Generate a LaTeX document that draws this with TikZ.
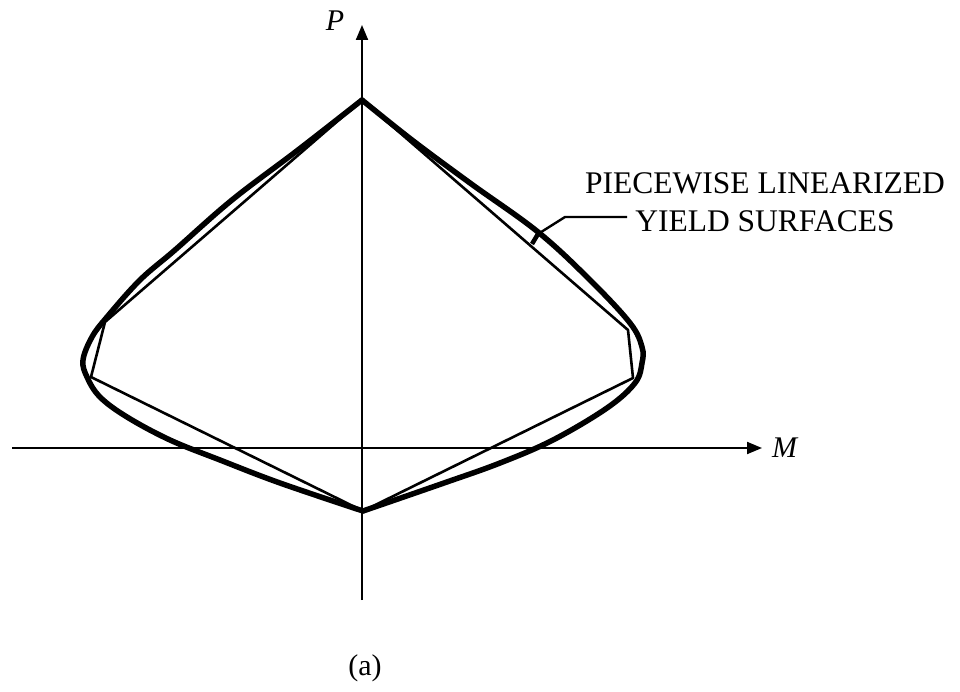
\documentclass[tikz,border=0pt]{standalone}
\usepackage{fontspec}
\setmainfont{Liberation Serif}
\usetikzlibrary{arrows.meta}

\begin{document}
\begin{tikzpicture}[x=1pt, y=-1pt, >={Triangle[length=15pt,width=12pt]},
  yield/.style={line width=5.5pt, line join=round, line cap=round},
  linear/.style={line width=2.6pt, line join=round},
  axis/.style={->, line width=2pt},
  lbl/.style={font=\fontsize{31.5}{38}\selectfont, inner sep=0pt}]
  \useasboundingbox (0,0) rectangle (960,692);
  % axes
  \coordinate (pbot) at (362,600);
  \coordinate (ptop) at (362,25);
  \coordinate (mleft) at (12,448);
  \coordinate (mright) at (762,448);
  \draw[axis] (pbot) -- (ptop);
  \draw[axis] (mleft) -- (mright);
  \node[lbl, font=\fontsize{30}{36}\selectfont] (P) at (335,21) {\textit{P}};
  \node[lbl, font=\fontsize{30}{36}\selectfont, anchor=west] (M) at (772,448) {\textit{M}};
  % yield surface
  \draw[yield] plot[smooth, tension=0.6] coordinates {(362,100) (298,150) (232,200)
    (175,250) (140,280) (107,317) (92,337) (83,360) (87,377) (100,397) (127,417)
    (170,440) (220,460) (280,483) (363,511)};
  \draw[yield] plot[smooth, tension=0.6] coordinates {(362,100) (412,140) (470,183)
    (538,232) (590,280) (630,323) (642,347) (642,363) (635,383) (607,408)
    (553,440) (500,463) (444,483) (363,511)};
  % piecewise linear
  \draw[linear] (362,100) -- (105,322) -- (91,377) -- (363,511) -- (633,378)
    -- (628,330) -- cycle;
  % label
  \node[lbl, anchor=base] (lineA) at (765,194) {PIECEWISE LINEARIZED};
  \node[lbl, anchor=base] (lineB) at (765,232) {YIELD SURFACES};
  \coordinate (tick) at (532,244);
  \coordinate (lead) at (627,217);
  \draw[line width=4.5pt] (tick) -- ++(6,-10);
  \draw[line width=2.4pt] (538,234) -- (565,217) -- (lead);
  \node[lbl, font=\fontsize{30}{36}\selectfont] (cap) at (365,668) {(a)};
\end{tikzpicture}
\end{document}
